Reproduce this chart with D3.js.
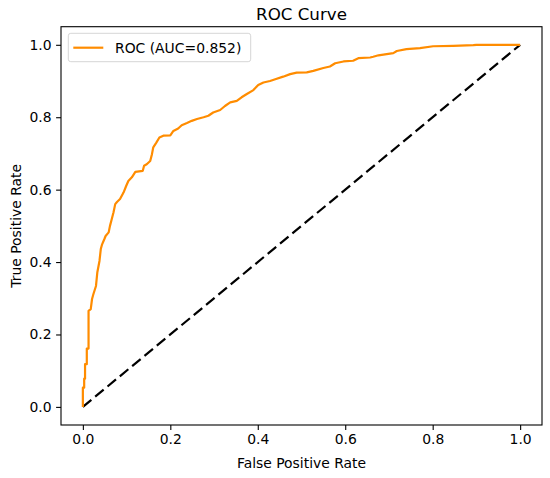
<!DOCTYPE html>
<html>
<head>
<meta charset="utf-8">
<script src="https://cdn.jsdelivr.net/npm/d3@7"></script>
<style>
  body { margin: 0; background: #fff; }
  text { font-family: "DejaVu Sans", sans-serif; fill: #000; }
</style>
</head>
<body>
<div id="chart"></div>
<script>
// ROC points
const fpr = [0, 0, 0.003, 0.003, 0.005, 0.005, 0.009, 0.009, 0.013, 0.013,
    0.018, 0.021, 0.024, 0.030, 0.033, 0.038, 0.041, 0.044, 0.049, 0.052,
    0.059, 0.062, 0.066, 0.070, 0.074, 0.078, 0.085, 0.093, 0.099, 0.104,
    0.112, 0.120, 0.137, 0.140, 0.146, 0.154, 0.158, 0.161, 0.168, 0.175,
    0.184, 0.200, 0.207, 0.218, 0.226, 0.238, 0.249, 0.261, 0.276, 0.287,
    0.298, 0.314, 0.325, 0.337, 0.352, 0.363, 0.375, 0.390, 0.401, 0.413,
    0.428, 0.440, 0.458, 0.474, 0.489, 0.512, 0.527, 0.550, 0.565, 0.577,
    0.596, 0.618, 0.630, 0.657, 0.664, 0.676, 0.710, 0.718, 0.740, 0.771,
    0.801, 0.847, 0.893, 0.900, 1.0];
const tpr = [0, 0.053, 0.053, 0.078, 0.078, 0.118, 0.118, 0.161, 0.161, 0.265,
    0.270, 0.298, 0.311, 0.334, 0.371, 0.403, 0.436, 0.449, 0.463, 0.472,
    0.482, 0.500, 0.518, 0.537, 0.560, 0.566, 0.574, 0.592, 0.610, 0.624,
    0.634, 0.649, 0.652, 0.666, 0.670, 0.679, 0.698, 0.717, 0.730, 0.744,
    0.749, 0.750, 0.762, 0.769, 0.778, 0.784, 0.790, 0.795, 0.800, 0.804,
    0.813, 0.820, 0.831, 0.841, 0.845, 0.855, 0.864, 0.875, 0.889, 0.896,
    0.900, 0.905, 0.912, 0.919, 0.923, 0.924, 0.928, 0.936, 0.940, 0.949,
    0.954, 0.956, 0.963, 0.965, 0.967, 0.971, 0.977, 0.983, 0.988, 0.991,
    0.996, 0.997, 0.999, 1.0, 1.0];
const chance = [0, 1];
const ticks = [0, 0.2, 0.4, 0.6, 0.8, 1.0];
const auc = 0.852;

const width = 550, height = 478;
const margin = { top: 26.7, right: 8, bottom: 53, left: 61 };

const svg = d3.select("#chart")
    .append("svg")
    .attr("width", width)
    .attr("height", height);

const x = d3.scaleLinear().domain([-0.05, 1.05])
    .range([margin.left, width - margin.right]);
const y = d3.scaleLinear().domain([-0.05, 1.05])
    .range([height - margin.bottom, margin.top]);

const roc = fpr.map((f, i) => [f, tpr[i]]);
const line = d3.line().x(d => x(d[0])).y(d => y(d[1]));

// chance diagonal
svg.append("path")
    .datum(chance.map(v => [v, v]))
    .attr("d", line)
    .attr("fill", "none")
    .attr("stroke", "#000")
    .attr("stroke-width", 2.2)
    .attr("stroke-dasharray", "11,5");

svg.append("path")
    .datum(roc)
    .attr("d", line)
    .attr("fill", "none")
    .attr("stroke", "#ff8c00")
    .attr("stroke-width", 2.2)
    .attr("stroke-linejoin", "round");

// axes
const fmt = d3.format(".1f");
const xAxis = svg.append("g")
    .attr("transform", `translate(0,${height - margin.bottom})`)
    .call(d3.axisBottom(x).tickValues(ticks).tickFormat(fmt).tickSize(4.9).tickPadding(4.5));
const yAxis = svg.append("g")
    .attr("transform", `translate(${margin.left},0)`)
    .call(d3.axisLeft(y).tickValues(ticks).tickFormat(fmt).tickSize(4.9).tickPadding(4.5));

[xAxis, yAxis].forEach(g => {
    g.select(".domain").remove();
    g.selectAll("line").attr("stroke", "#000").attr("stroke-width", 1.1);
    g.selectAll("text").style("font-size", "13.9px").style("font-family", "DejaVu Sans");
});

// frame
svg.append("rect")
    .attr("x", margin.left)
    .attr("y", margin.top)
    .attr("width", width - margin.left - margin.right)
    .attr("height", height - margin.top - margin.bottom)
    .attr("fill", "none")
    .attr("stroke", "#000")
    .attr("stroke-width", 1.1);

// labels
const cx = (margin.left + width - margin.right) / 2;
svg.append("text")
    .attr("x", cx).attr("y", 20.3)
    .attr("text-anchor", "middle")
    .style("font-size", "16.7px")
    .text("ROC Curve");

svg.append("text")
    .attr("x", cx).attr("y", 468)
    .attr("text-anchor", "middle")
    .style("font-size", "13.9px")
    .text("False Positive Rate");

svg.append("text")
    .attr("transform", `translate(21,${(margin.top + height - margin.bottom) / 2}) rotate(-90)`)
    .attr("text-anchor", "middle")
    .style("font-size", "13.9px")
    .text("True Positive Rate");

// legend
const legend = svg.append("g");
legend.append("rect")
    .attr("x", 68.3).attr("y", 33.3)
    .attr("width", 182.4).attr("height", 28.4)
    .attr("rx", 2.5)
    .attr("fill", "#fff").attr("fill-opacity", 0.8)
    .attr("stroke", "#d6d6d6").attr("stroke-width", 1);
legend.append("line")
    .attr("x1", 73.3).attr("x2", 103.3)
    .attr("y1", 47.7).attr("y2", 47.7)
    .attr("stroke", "#ff8c00").attr("stroke-width", 2.2);
legend.append("text")
    .attr("x", 115).attr("y", 52.7)
    .style("font-size", "13.9px")
    .text(`ROC (AUC=${auc.toFixed(3)})`);
</script>
</body>
</html>
